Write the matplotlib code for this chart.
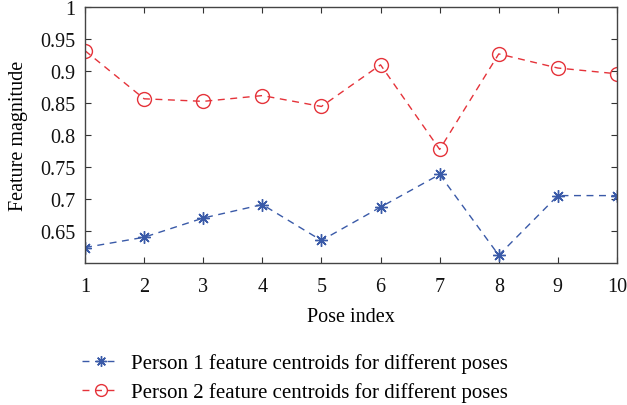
import matplotlib
matplotlib.use("Agg")
import matplotlib.pyplot as plt

plt.rcParams['font.family'] = ['Liberation Serif', 'DejaVu Serif']
plt.rcParams['font.size'] = 14

# feature centroids per pose
poses = [1, 2, 3, 4, 5, 6, 7, 8, 9, 10]
person1 = [0.625, 0.641, 0.671, 0.692, 0.636, 0.688, 0.739, 0.613, 0.706, 0.706]
person2 = [0.932, 0.857, 0.853, 0.862, 0.845, 0.910, 0.778, 0.927, 0.905, 0.896]
yticks = [0.65, 0.7, 0.75, 0.8, 0.85, 0.9, 0.95, 1]
ytick_labels = ["0.65", "0.7", "0.75", "0.8", "0.85", "0.9", "0.95", "1"]

blue = "#3a5aa8"
red = "#e5333a"

fig = plt.figure(figsize=(6.27, 4.06), dpi=100)
ax = fig.add_axes([0.1356, 0.350, 0.8484, 0.630])

ax.plot(poses, person1, linestyle="--", dashes=(5, 4), color=blue, lw=1,
        marker=(8, 2, 0), markersize=9, markeredgewidth=1,
        label="Person 1 feature centroids for different poses")
ax.plot(poses, person2, linestyle="--", dashes=(5, 4), color=red, lw=1,
        marker="o", markersize=10, markerfacecolor="none", markeredgewidth=1,
        label="Person 2 feature centroids for different poses")

ax.set_xlim(1, 10)
ax.set_ylim(0.601, 1)
ax.set_xticks(poses)
ax.set_yticks(yticks)
ax.set_yticklabels(ytick_labels)
ax.tick_params(direction="in", top=True, right=True, length=4, width=0.8,
               labelsize=14.5, colors="#333333", labelcolor="#111111")
ax.tick_params(axis="x", pad=10)
ax.tick_params(axis="y", pad=7)
for s in ax.spines.values():
    s.set_color("#444444")
    s.set_linewidth(1)

ax.set_xlabel("Pose index", fontsize=14.5, labelpad=8)
ax.set_ylabel("Feature magnitude", fontsize=14.5, labelpad=9)

handles, labels = ax.get_legend_handles_labels()
fig.legend(handles, labels, loc="upper left", bbox_to_anchor=(0.118, 0.148),
           frameon=False, fontsize=15, handlelength=1.75, handletextpad=0.6,
           labelspacing=0.45, borderaxespad=0, markerscale=0.85)

fig.savefig("out.png", dpi=100)
